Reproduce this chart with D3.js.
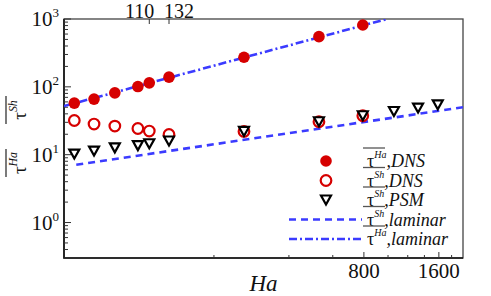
<!DOCTYPE html>
<html>
<head>
<meta charset="utf-8">
<script src="https://cdn.jsdelivr.net/npm/d3@7"></script>
<style>
  body { margin: 0; background: #fff; }
  svg { font-family: "Liberation Serif", "Times New Roman", serif; }
</style>
</head>
<body>
<div id="chart"></div>
<script>
// Data
var haDns = [55, 66, 80, 99, 110, 132, 264, 528, 792];
var tauHaDns = [57.6, 66, 81.6, 101, 114.5, 139, 273, 549, 816];
var tauShDns = [31.9, 28.3, 26.4, 24.3, 22.3, 19.9, 22, 30.6, 37.5];
var haPsm = [55, 66, 80, 99, 110, 132, 264, 528, 792, 1056, 1320, 1584];
var tauShPsm = [10.2, 11.3, 12.6, 13.6, 14.5, 15.9, 22, 30.6, 37.5, 43.3, 48.6, 54.4];
var laminarSh = [[56, 7.1], [2000, 50]];
var laminarHa = [[50, 52], [990, 1000]];

var topTicks = [110, 132];
var bottomTicks = [200, 400, 600, 800, 1000, 1200, 1400, 1600, 1800];
var bottomLabels = [800, 1600];
var yMajor = [1, 10, 100, 1000];

var width = 491, height = 296;
var margin = {top: 19, left: 64, right: 28, bottom: 38};

var red = "#d60000";
var blue = "#3b3bff";

var svg = d3.select("#chart")
    .append("svg")
    .attr("width", width)
    .attr("height", height);

var x = d3.scaleLog()
    .domain([50, 2000])
    .range([margin.left, width - margin.right]);

var y = d3.scaleLog()
    .domain([0.3, 1000])
    .range([height - margin.bottom, margin.top]);

var x0 = x.range()[0], x1 = x.range()[1];
var y0 = y.range()[0], y1 = y.range()[1];

svg.append("clipPath").attr("id", "clip")
    .append("rect")
    .attr("x", x0).attr("y", y1)
    .attr("width", x1 - x0).attr("height", y0 - y1);

// frame
svg.append("rect")
    .attr("x", x0).attr("y", y1)
    .attr("width", x1 - x0).attr("height", y0 - y1)
    .attr("fill", "none")
    .attr("stroke", "#444")
    .attr("stroke-width", 1.3);
svg.append("path")
    .attr("d", "M" + x0 + "," + y1 + "V" + y0 + "H" + x1)
    .attr("fill", "none")
    .attr("stroke", "#111")
    .attr("stroke-width", 1.6);

// y ticks (minor + major), inside
var yTicks = [];
[0.1, 1, 10, 100].forEach(function (dec) {
    for (var k = 1; k <= 9; k++) {
        var v = dec * k;
        if (v >= 0.3 && v <= 1000) yTicks.push(v);
    }
});
yTicks.push(1000);
svg.append("g").selectAll("line")
    .data(yTicks)
    .join("line")
    .attr("x1", x0)
    .attr("x2", function (d) { return x0 + (yMajor.indexOf(d) >= 0 ? 7 : 4); })
    .attr("y1", function (d) { return y(d); })
    .attr("y2", function (d) { return y(d); })
    .attr("stroke", "#333")
    .attr("stroke-width", 1);

var yLab = svg.append("g").selectAll("text")
    .data(yMajor)
    .join("text")
    .attr("x", x0 - 5)
    .attr("y", function (d) { return y(d) + 7; })
    .attr("text-anchor", "end")
    .attr("fill", "#111");
yLab.append("tspan").attr("font-size", 21).text("10");
yLab.append("tspan").attr("font-size", 13).attr("dy", -9)
    .text(function (d) { return Math.round(Math.log10(d)); });

// bottom ticks
svg.append("g").selectAll("line")
    .data(bottomTicks)
    .join("line")
    .attr("x1", function (d) { return x(d); })
    .attr("x2", function (d) { return x(d); })
    .attr("y1", y0)
    .attr("y2", function (d) { return y0 - (bottomLabels.indexOf(d) >= 0 ? 6 : 3); })
    .attr("stroke", "#333")
    .attr("stroke-width", 1);
svg.append("g").selectAll("text")
    .data(bottomLabels)
    .join("text")
    .attr("x", function (d) { return x(d); })
    .attr("y", y0 + 20)
    .attr("text-anchor", "middle")
    .attr("font-size", 21)
    .attr("fill", "#111")
    .text(function (d) { return d; });

// top ticks
svg.append("g").selectAll("line")
    .data(topTicks)
    .join("line")
    .attr("x1", function (d) { return x(d); })
    .attr("x2", function (d) { return x(d); })
    .attr("y1", y1)
    .attr("y2", y1 + 5)
    .attr("stroke", "#333")
    .attr("stroke-width", 1);
svg.append("g").selectAll("text")
    .data(topTicks)
    .join("text")
    .attr("x", function (d, i) { return x(d) + (i === 0 ? 5 : -5); })
    .attr("y", y1 - 1)
    .attr("text-anchor", function (d, i) { return i === 0 ? "end" : "start"; })
    .attr("font-size", 20)
    .attr("fill", "#111")
    .text(function (d) { return d; });

// x label
svg.append("text")
    .attr("x", (x0 + x1) / 2)
    .attr("y", 291)
    .attr("text-anchor", "middle")
    .attr("font-size", 23)
    .attr("font-style", "italic")
    .attr("fill", "#111")
    .text("Ha");

// y label: two overlined tau symbols, rotated
function tauLabel(g, sup, size) {
    var t = g.append("text").attr("fill", "#111");
    t.append("tspan").attr("font-size", size).text("τ");
    t.append("tspan").attr("font-size", size * 0.62).attr("font-style", "italic")
        .attr("dy", -size * 0.5).text(sup);
    return t;
}
[["Sh", 110], ["Ha", 163]].forEach(function (p) {
    var g = svg.append("g")
        .attr("transform", "translate(26," + p[1] + ") rotate(-90)");
    var t = tauLabel(g, p[0], 19);
    t.attr("text-anchor", "middle");
    g.append("line")
        .attr("x1", -14).attr("x2", 14)
        .attr("y1", -20).attr("y2", -20)
        .attr("stroke", "#333").attr("stroke-width", 1.3);
});

// lines
var plot = svg.append("g").attr("clip-path", "url(#clip)");
var line = d3.line()
    .x(function (d) { return x(d[0]); })
    .y(function (d) { return y(d[1]); });

plot.append("path")
    .attr("d", line(laminarSh))
    .attr("fill", "none")
    .attr("stroke", blue)
    .attr("stroke-width", 2.6)
    .attr("stroke-dasharray", "7,5");
plot.append("path")
    .attr("d", line(laminarHa))
    .attr("fill", "none")
    .attr("stroke", blue)
    .attr("stroke-width", 2.6)
    .attr("stroke-dasharray", "8,3,2,3");

// markers
var triPath = "M-5,-4.5L5,-4.5L0,4.5Z";

plot.append("g").selectAll("circle")
    .data(haDns)
    .join("circle")
    .attr("cx", function (d) { return x(d); })
    .attr("cy", function (d, i) { return y(tauShDns[i]); })
    .attr("r", 5.3)
    .attr("fill", "none")
    .attr("stroke", red)
    .attr("stroke-width", 2.2);

plot.append("g").selectAll("circle")
    .data(haDns)
    .join("circle")
    .attr("cx", function (d) { return x(d); })
    .attr("cy", function (d, i) { return y(tauHaDns[i]); })
    .attr("r", 5.8)
    .attr("fill", red);

plot.append("g").selectAll("path")
    .data(haPsm)
    .join("path")
    .attr("transform", function (d, i) {
        return "translate(" + x(d) + "," + y(tauShPsm[i]) + ")";
    })
    .attr("d", triPath)
    .attr("fill", "#fff")
    .attr("stroke", "#000")
    .attr("stroke-width", 2.2)
    .attr("stroke-linejoin", "miter");

// legend
var legendItems = [
    {sup: "Ha", tail: ",DNS", kind: "fill"},
    {sup: "Sh", tail: ",DNS", kind: "open"},
    {sup: "Sh", tail: ",PSM", kind: "tri"},
    {sup: "Sh", tail: ",laminar", kind: "dash"},
    {sup: "Ha", tail: ",laminar", kind: "dashdot"}
];
var legend = svg.append("g").attr("transform", "translate(0,161)");
legendItems.forEach(function (item, i) {
    var yy = i * 19.5;
    var g = legend.append("g").attr("transform", "translate(0," + yy + ")");
    if (item.kind === "fill") {
        g.append("circle").attr("cx", 326).attr("r", 5.8).attr("fill", red);
    } else if (item.kind === "open") {
        g.append("circle").attr("cx", 326).attr("r", 5.3).attr("fill", "none")
            .attr("stroke", red).attr("stroke-width", 2.2);
    } else if (item.kind === "tri") {
        g.append("path").attr("transform", "translate(326,0)").attr("d", triPath)
            .attr("fill", "#fff").attr("stroke", "#000").attr("stroke-width", 2.2);
    } else {
        g.append("line").attr("x1", 289).attr("x2", 362).attr("y1", 0).attr("y2", 0)
            .attr("stroke", blue).attr("stroke-width", 2.4)
            .attr("stroke-dasharray", item.kind === "dash" ? "7,5" : "8,3,2,3");
    }
    g.append("line")
        .attr("x1", 363).attr("x2", 385)
        .attr("y1", -13).attr("y2", -13)
        .attr("stroke", "#555").attr("stroke-width", 1.3);
    var t = g.append("text").attr("x", 367).attr("y", 6).attr("fill", "#111");
    t.append("tspan").attr("font-size", 18).text("τ");
    t.append("tspan").attr("font-size", 10).attr("font-style", "italic")
        .attr("dy", -9).text(item.sup);
    t.append("tspan").attr("font-size", 18).attr("font-style", "italic")
        .attr("dy", 9).text(item.tail);
});
</script>
</body>
</html>
